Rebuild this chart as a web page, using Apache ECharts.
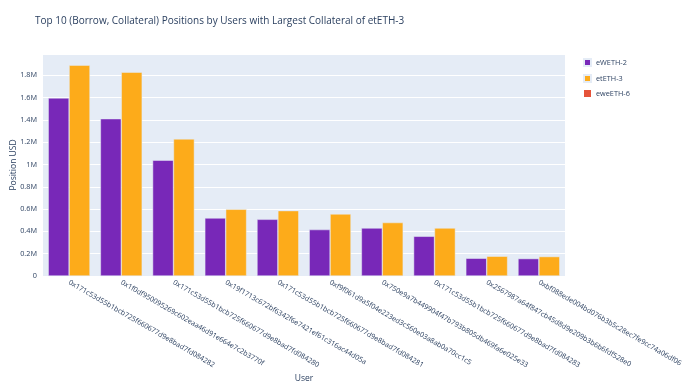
<!DOCTYPE html>
<html>
<head>
<meta charset="utf-8">
<script src="https://cdn.jsdelivr.net/npm/echarts@6/dist/echarts.min.js"></script>
<style>html,body{margin:0;padding:0;background:#fff}#c{width:690px;height:388px}</style>
</head>
<body>
<div id="c"></div>
<script>
const users = [
  "0x171c53d55b1bcb725f660677d9e8bad7fd084282",
  "0x1f0df950095269c602eaa46d91e664e7c2b3770f",
  "0x171c53d55b1bcb725f660677d9e8bad7fd084280",
  "0x19f1713c672bf6342f6e7421ef61c316ac44d05a",
  "0x171c53d55b1bcb725f660677d9e8bad7fd084281",
  "0xf9f061d9a5f04e223ed3c560e03a8ab0a70cc1c5",
  "0x750e9a7b449904f47b793b805db469fa6e025e33",
  "0x171c53d55b1bcb725f660677d9e8bad7fd084283",
  "0x2567987a64f847cb45d8d9e209b3b6b6fdf528e0",
  "0xbf088ede004bd076b3b5c28ec7fe9cc74a06df06"
];
const eWETH2 = [1596000, 1410000, 1038000, 520000, 508000, 416000, 430000, 356000, 159000, 156000];
const etETH3 = [1890000, 1827000, 1229000, 598000, 586000, 556000, 479000, 430000, 177000, 174000];
const eweETH6 = [];
const yTicks = [0, 200000, 400000, 600000, 800000, 1000000, 1200000, 1400000, 1600000, 1800000];

const txt = '#2a3f5f';
const ff = '"Open Sans", Verdana, Arial, sans-serif';
const chart = echarts.init(document.getElementById('c'), null, {renderer: 'canvas'});
chart.setOption({
  animation: false,
  textStyle: {fontFamily: ff},
  title: {
    text: 'Top 10 (Borrow, Collateral) Positions by Users with Largest Collateral of etETH-3',
    left: 30, top: 11,
    textStyle: {fontSize: 10, fontWeight: 'normal', color: txt, fontFamily: ff}
  },
  legend: {
    orient: 'vertical', left: 578, top: 53,
    itemWidth: 7, itemHeight: 7, itemGap: 7,
    icon: 'rect',
    data: ['eWETH-2', 'etETH-3', 'eweETH-6'],
    textStyle: {fontSize: 7.3, color: txt, fontFamily: ff}
  },
  grid: {left: 43, right: 125, top: 54, bottom: 112, containLabel: false, outerBoundsMode: 'none',
         show: true, backgroundColor: '#E5ECF6', borderWidth: 0},
  xAxis: {
    type: 'category', data: users,
    name: 'User', nameLocation: 'middle', nameGap: 98, nameMoveOverlap: false,
    nameTextStyle: {fontSize: 8.5, color: txt},
    axisLine: {show: false}, axisTick: {show: false},
    axisLabel: {rotate: -30, interval: 0, fontSize: 7.1, color: txt, margin: 6}
  },
  yAxis: {
    type: 'value', min: 0, max: 1990000, interval: 200000,
    name: 'Position USD', nameLocation: 'middle', nameGap: 25, nameMoveOverlap: false,
    nameTextStyle: {fontSize: 8.5, color: txt},
    axisLine: {show: false}, axisTick: {show: false},
    splitLine: {lineStyle: {color: '#ffffff', width: 1}},
    axisLabel: {
      fontSize: 7.3, color: txt, margin: 6,
      formatter: function (v) {
        if (yTicks.indexOf(v) < 0) return '';
        if (v === 0) return '0';
        return (Math.round(v / 100000) / 10) + 'M';
      }
    }
  },
  series: [
    {name: 'eWETH-2', type: 'bar', stack: 'a', data: eWETH2, barGap: '0%', barCategoryGap: '20%',
     itemStyle: {color: '#7828b8', borderColor: '#E5ECF6', borderWidth: 0.5}},
    {name: 'etETH-3', type: 'bar', stack: 'b', data: etETH3,
     itemStyle: {color: '#fdab1a', borderColor: '#E5ECF6', borderWidth: 0.5}},
    {name: 'eweETH-6', type: 'bar', stack: 'a', data: eweETH6,
     itemStyle: {color: '#e5533a'}}
  ]
});
</script>
</body>
</html>
